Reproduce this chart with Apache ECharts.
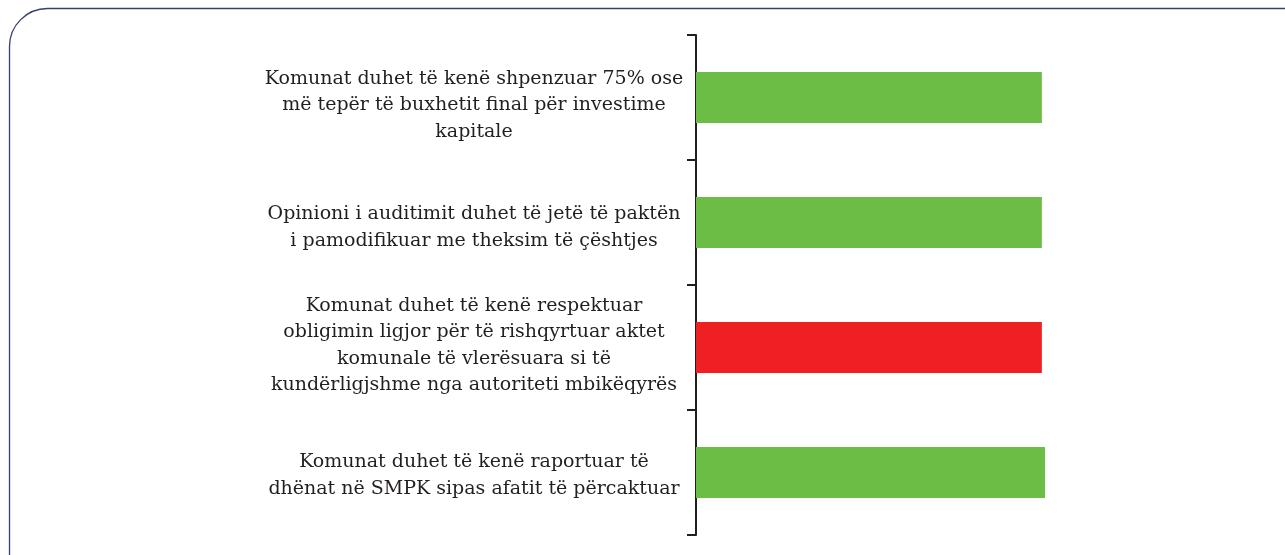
<!DOCTYPE html>
<html lang="sq">
<head>
<meta charset="UTF-8">
<title>Kriteret</title>
<script src="https://cdn.jsdelivr.net/npm/echarts@6/dist/echarts.min.js"></script>
<style>
  * { margin: 0; padding: 0; }
  html, body { width: 100%; height: 100%; background: #fff; }
  #main { width: 1285px; height: 555px; }
</style>
</head>
<body>
<div id="main"></div>
<script>
var categories = [
  'Komunat duhet të kenë shpenzuar 75% ose\nmë tepër të buxhetit final për investime\nkapitale',
  'Opinioni i auditimit duhet të jetë të paktën\ni pamodifikuar me theksim të çështjes',
  'Komunat duhet të kenë respektuar\nobligimin ligjor për të rishqyrtuar aktet\nkomunale të vlerësuara si të\nkundërligjshme nga autoriteti mbikëqyrës',
  'Komunat duhet të kenë raportuar të\ndhënat në SMPK sipas afatit të përcaktuar'
];
var values = [99.1, 99.1, 99.1, 100];
var barColors = ['#6bbd45', '#6bbd45', '#ee2024', '#6bbd45'];
// small vertical nudges of the labels (px, down is positive)
var labelShift = [8, 5, -2, 3];

var rich = {
  t: { color: '#231f20', fontFamily: 'DejaVu Serif', fontSize: 19, lineHeight: 26.5 }
};
labelShift.forEach(function (s, i) {
  var h = Math.abs(2 * s);
  rich['sp' + i] = { height: h, lineHeight: h, fontSize: 1 };
});

var chart = echarts.init(document.getElementById('main'));
chart.setOption({
  animation: false,
  graphic: [{
    type: 'rect',
    shape: { x: 9.5, y: 8.5, width: 1320, height: 600, r: 38 },
    style: { fill: 'none', stroke: '#34426f', lineWidth: 1.3 },
    silent: true
  }],
  grid: { left: 696, width: 349, top: 35, bottom: 20 },
  xAxis: { type: 'value', min: 0, max: 100, show: false },
  yAxis: {
    type: 'category',
    inverse: true,
    data: categories,
    axisLine: { show: true, lineStyle: { color: '#231f20', width: 2 } },
    axisTick: { show: true, length: 9, lineStyle: { color: '#231f20', width: 2 } },
    axisLabel: {
      align: 'center',
      margin: 222,
      formatter: function (v, i) {
        var s = labelShift[i];
        var body = '{t|' + v + '}';
        if (s > 0) return '{sp' + i + '| }\n' + body;
        if (s < 0) return body + '\n{sp' + i + '| }';
        return body;
      },
      rich: rich
    }
  },
  series: [{
    type: 'bar',
    barWidth: 51,
    data: values.map(function (v, i) {
      return { value: v, itemStyle: { color: barColors[i] } };
    })
  }]
});
</script>
</body>
</html>
